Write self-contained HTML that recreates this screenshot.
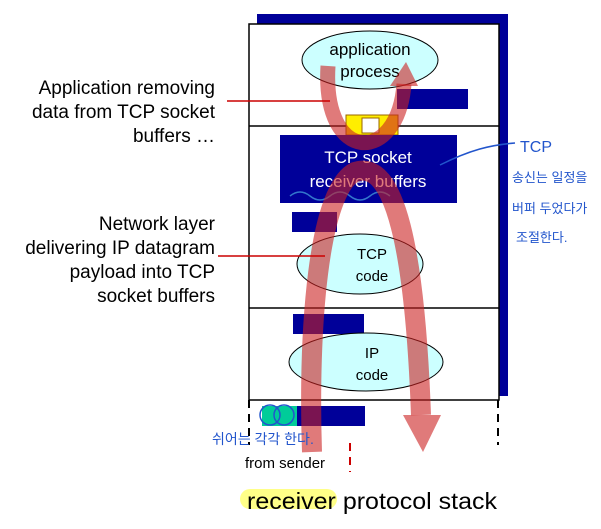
<!DOCTYPE html>
<html><head><meta charset="utf-8"><style>
body{margin:0;width:601px;height:529px;background:#fff;overflow:hidden;font-family:"Liberation Sans","Noto Sans CJK KR",sans-serif}
svg{position:absolute;left:0;top:0}
</style></head><body>
<svg width="601" height="529" viewBox="0 0 601 529" font-family="Liberation Sans, Noto Sans CJK KR, sans-serif">
<rect x="257" y="14" width="251" height="382" fill="#000099"/>
<rect x="249" y="24" width="250" height="376" fill="#fff" stroke="#000" stroke-width="1.5"/>
<line x1="249" y1="126" x2="499" y2="126" stroke="#000" stroke-width="1.5"/>
<line x1="249" y1="308" x2="499" y2="308" stroke="#000" stroke-width="1.5"/>
<line x1="249" y1="400" x2="249" y2="445" stroke="#000" stroke-width="2" stroke-dasharray="8,6"/>
<line x1="498" y1="400" x2="498" y2="445" stroke="#000" stroke-width="2" stroke-dasharray="8,6"/>
<ellipse cx="370" cy="60" rx="68" ry="29" fill="#ccffff" stroke="#000"/>
<text x="370" y="55" font-size="17" text-anchor="middle">application</text>
<text x="370" y="77" font-size="17" text-anchor="middle">process</text>
<rect x="397" y="89" width="71" height="20" fill="#000099"/>
<rect x="346" y="115" width="52" height="20" fill="#ffee00" stroke="#996600"/>
<rect x="362" y="118" width="17" height="15" fill="#fff" stroke="#996600"/>
<rect x="280" y="135" width="177" height="68" fill="#000099"/>
<text x="368" y="163" font-size="17" fill="#fff" text-anchor="middle">TCP socket</text>
<text x="368" y="187" font-size="17" fill="#fff" text-anchor="middle">receiver buffers</text>
<path d="M290,196 q10,-8 20,0 t20,0 t20,0 t20,0 t20,0" fill="none" stroke="#3377cc" stroke-width="1.5"/>
<rect x="292" y="212" width="45" height="20" fill="#000099"/>
<ellipse cx="360" cy="264" rx="63" ry="30" fill="#ccffff" stroke="#000"/>
<text x="372" y="259" font-size="15" text-anchor="middle">TCP</text>
<text x="372" y="281" font-size="15" text-anchor="middle">code</text>
<rect x="293" y="314" width="71" height="20" fill="#000099"/>
<ellipse cx="366" cy="362" rx="77" ry="29" fill="#ccffff" stroke="#000"/>
<text x="372" y="358" font-size="15" text-anchor="middle">IP</text>
<text x="372" y="380" font-size="15" text-anchor="middle">code</text>
<rect x="262" y="406" width="35" height="20" fill="#00cc99"/>
<rect x="297" y="406" width="68" height="20" fill="#000099"/>
<circle cx="270" cy="415" r="10" fill="none" stroke="#2255cc" stroke-width="1.5"/>
<circle cx="284" cy="415" r="10" fill="none" stroke="#2255cc" stroke-width="1.5"/>
<g fill="none" stroke="#cc2222" stroke-opacity="0.6">
<path d="M328,66 C322,165 398,165 404,84" stroke-width="15"/>
<path d="M312,452 C308,330 318,190 355,172 C395,158 415,250 421,415" stroke-width="20"/>
</g>
<polygon points="390,86 418,86 406,62" fill="#cc2222" fill-opacity="0.6"/>
<polygon points="403,415 441,415 423,452" fill="#cc2222" fill-opacity="0.6"/>
<line x1="227" y1="101" x2="330" y2="101" stroke="#cc0000" stroke-width="1.5"/>
<line x1="218" y1="256" x2="325" y2="256" stroke="#cc0000" stroke-width="1.5"/>
<line x1="350" y1="443" x2="350" y2="472" stroke="#cc0000" stroke-width="2" stroke-dasharray="8,6"/>
<path d="M440,165 C470,150 490,145 515,143" fill="none" stroke="#2255cc" stroke-width="1.5"/>
<g font-size="19" fill="#000" text-anchor="end">
<text x="215" y="94">Application removing</text>
<text x="215" y="118">data from TCP socket</text>
<text x="215" y="142">buffers …</text>
<text x="215" y="230">Network layer</text>
<text x="215" y="254">delivering IP datagram</text>
<text x="215" y="278">payload into TCP</text>
<text x="215" y="302">socket buffers</text>
</g>
<g fill="#2255cc" font-size="13">
<text x="520" y="152" font-size="16">TCP</text>
<text x="512" y="182">송신는 일정을</text>
<text x="512" y="213">버퍼 두었다가</text>
<text x="516" y="242">조절한다.</text>
<text x="212" y="444" font-size="14">쉬어는 각각 한다.</text>
</g>
<text x="245" y="468" font-size="15">from sender</text>
<rect x="240" y="489" width="97" height="20" rx="10" fill="#ffff88"/>
<text x="247" y="509" font-size="23" textLength="250" lengthAdjust="spacingAndGlyphs">receiver protocol stack</text>
</svg>
</body></html>
